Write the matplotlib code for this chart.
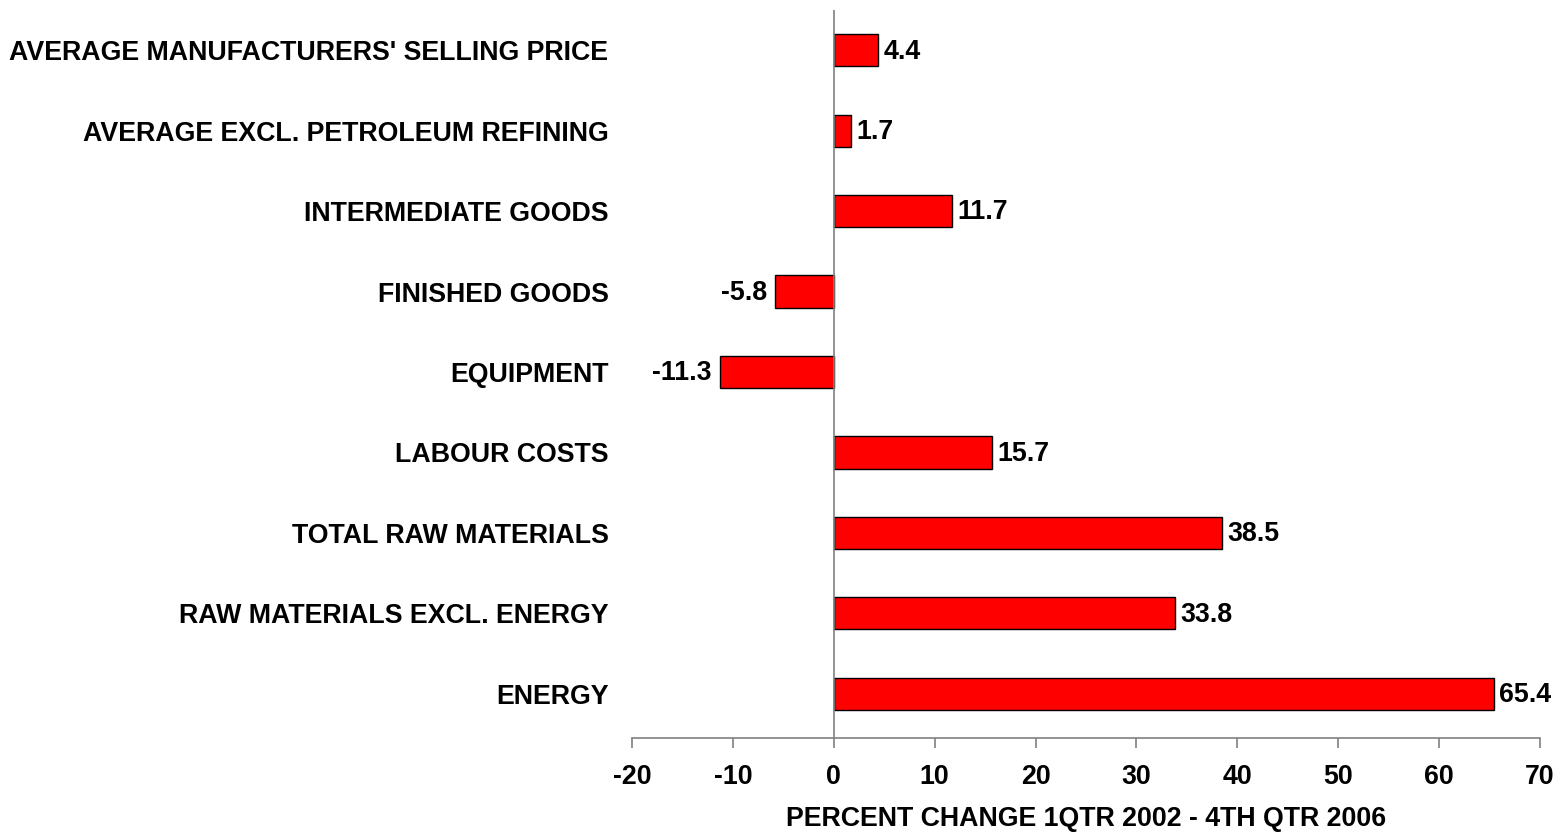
import matplotlib.pyplot as plt
import matplotlib

matplotlib.rc('font', **{'family': 'Liberation Sans', 'weight': 'bold'})
matplotlib.rc('axes', unicode_minus=False)

categories = ['ENERGY', 'RAW MATERIALS EXCL. ENERGY', 'TOTAL RAW MATERIALS',
              'LABOUR COSTS', 'EQUIPMENT', 'FINISHED GOODS',
              'INTERMEDIATE GOODS', 'AVERAGE EXCL. PETROLEUM REFINING',
              "AVERAGE MANUFACTURERS' SELLING PRICE"]
values = [65.4, 33.8, 38.5, 15.7, -11.3, -5.8, 11.7, 1.7, 4.4]
xticks = [-20, -10, 0, 10, 20, 30, 40, 50, 60, 70]

fontsize = 19.3
fig = plt.figure(figsize=(15.57, 8.33), dpi=100)
ax = fig.add_axes([632/1557, 1-738/833, (1540-632)/1557, (738-10)/833])

pos = range(len(categories))
ax.barh(pos, values, height=0.4, color='#ff0000', edgecolor='black',
        linewidth=1.0, zorder=3)
for p, v in zip(pos, values):
    if v >= 0:
        ax.annotate('%.1f' % v, (v, p), xytext=(4, -1), textcoords='offset points',
                    ha='left', va='center', fontsize=fontsize, fontweight='bold')
    else:
        ax.annotate('%.1f' % v, (v, p), xytext=(-6, -1), textcoords='offset points',
                    ha='right', va='center', fontsize=fontsize, fontweight='bold')

ax.axvline(0, color='#808080', linewidth=1.2, zorder=4)
ax.set_xlim(-20, 70)
ax.set_ylim(-0.55, 8.5)
ax.set_xticks(xticks)
ax.set_yticks(list(pos))
ax.set_yticklabels(categories, fontsize=fontsize, fontweight='bold')
ax.tick_params(axis='y', length=0, pad=17)
ax.tick_params(axis='x', length=7, width=1.2, color='#808080', pad=12,
               labelsize=fontsize)
for tl in ax.get_xticklabels():
    tl.set_fontweight('bold')

for s in ['top', 'right', 'left']:
    ax.spines[s].set_visible(False)
ax.spines['bottom'].set_color('#808080')
ax.spines['bottom'].set_linewidth(1.2)

ax.set_xlabel('PERCENT CHANGE 1QTR 2002 - 4TH QTR 2006', fontsize=fontsize,
              fontweight='bold', labelpad=11)

plt.savefig('out.png', dpi=100)
